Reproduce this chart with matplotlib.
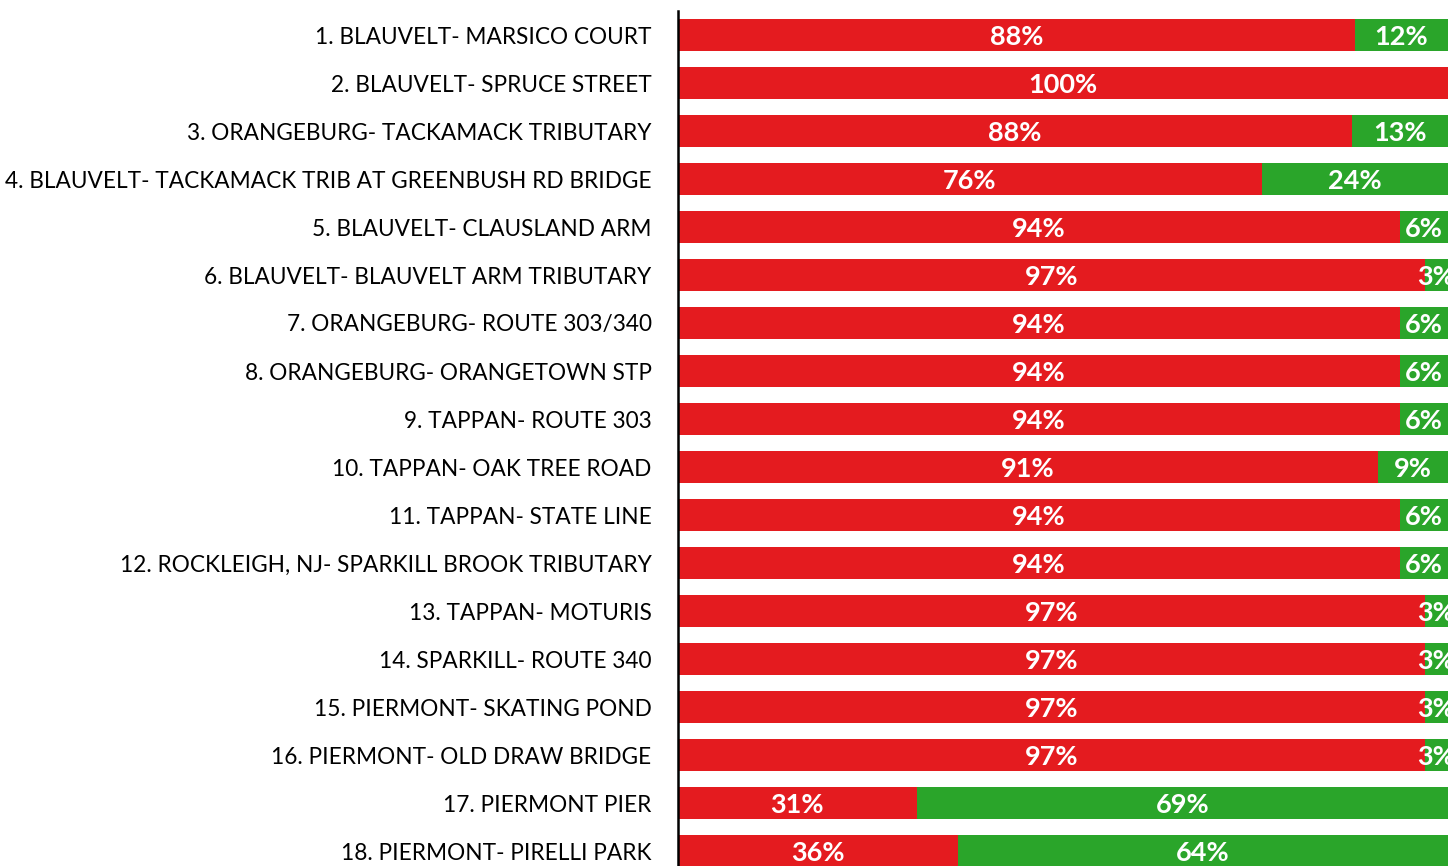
import matplotlib
matplotlib.use("Agg")
import matplotlib.pyplot as plt

sites = [
    "1. BLAUVELT- MARSICO COURT",
    "2. BLAUVELT- SPRUCE STREET",
    "3. ORANGEBURG- TACKAMACK TRIBUTARY",
    "4. BLAUVELT- TACKAMACK TRIB AT GREENBUSH RD BRIDGE",
    "5. BLAUVELT- CLAUSLAND ARM",
    "6. BLAUVELT- BLAUVELT ARM TRIBUTARY",
    "7. ORANGEBURG- ROUTE 303/340",
    "8. ORANGEBURG- ORANGETOWN STP",
    "9. TAPPAN- ROUTE 303",
    "10. TAPPAN- OAK TREE ROAD",
    "11. TAPPAN- STATE LINE",
    "12. ROCKLEIGH, NJ- SPARKILL BROOK TRIBUTARY",
    "13. TAPPAN- MOTURIS",
    "14. SPARKILL- ROUTE 340",
    "15. PIERMONT- SKATING POND",
    "16. PIERMONT- OLD DRAW BRIDGE",
    "17. PIERMONT PIER",
    "18. PIERMONT- PIRELLI PARK",
]
red_pct = [87.9, 100.0, 87.5, 75.8, 93.75, 97.0, 93.75, 93.75, 93.75,
           90.9, 93.75, 93.75, 97.0, 97.0, 97.0, 97.0, 31.0, 36.4]
green_pct = [100.0 - r for r in red_pct]

RED = "#e41b1f"
GREEN = "#2aa52a"

plt.rcParams['font.family'] = ['Lato', 'DejaVu Sans']

fig = plt.figure(figsize=(14.5, 8.66), dpi=100)
ax = fig.add_axes([678 / 1450, 1 - 875 / 866, 770 / 1450, 864 / 866])

y = list(range(len(sites)))
ax.barh(y, red_pct, height=0.67, color=RED, edgecolor="none")
ax.barh(y, green_pct, left=red_pct, height=0.67, color=GREEN, edgecolor="none")


def pct(v):
    return f"{int(v + 0.5)}%"


for i, (r, g) in enumerate(zip(red_pct, green_pct)):
    if r > 0.5:
        ax.text(r / 2, i + 0.04, pct(r), ha="center", va="center", color="white",
                fontsize=19.5, fontweight="bold", clip_on=False)
    if g > 0.5:
        ax.text(r + g / 2, i + 0.04, pct(g), ha="center", va="center", color="white",
                fontsize=19.5, fontweight="bold", clip_on=False)

ax.set_xlim(0, 100)
ax.set_ylim(len(sites) - 0.5, -0.5)
ax.set_yticks(y)
ax.set_yticklabels(sites, fontsize=16.3)
ax.tick_params(axis="y", length=0, pad=19)
ax.set_xticks([])
for s in ["top", "right", "bottom"]:
    ax.spines[s].set_visible(False)
ax.spines["left"].set_linewidth(1.8)
ax.spines["left"].set_color("black")

fig.savefig("out.png", dpi=100)
